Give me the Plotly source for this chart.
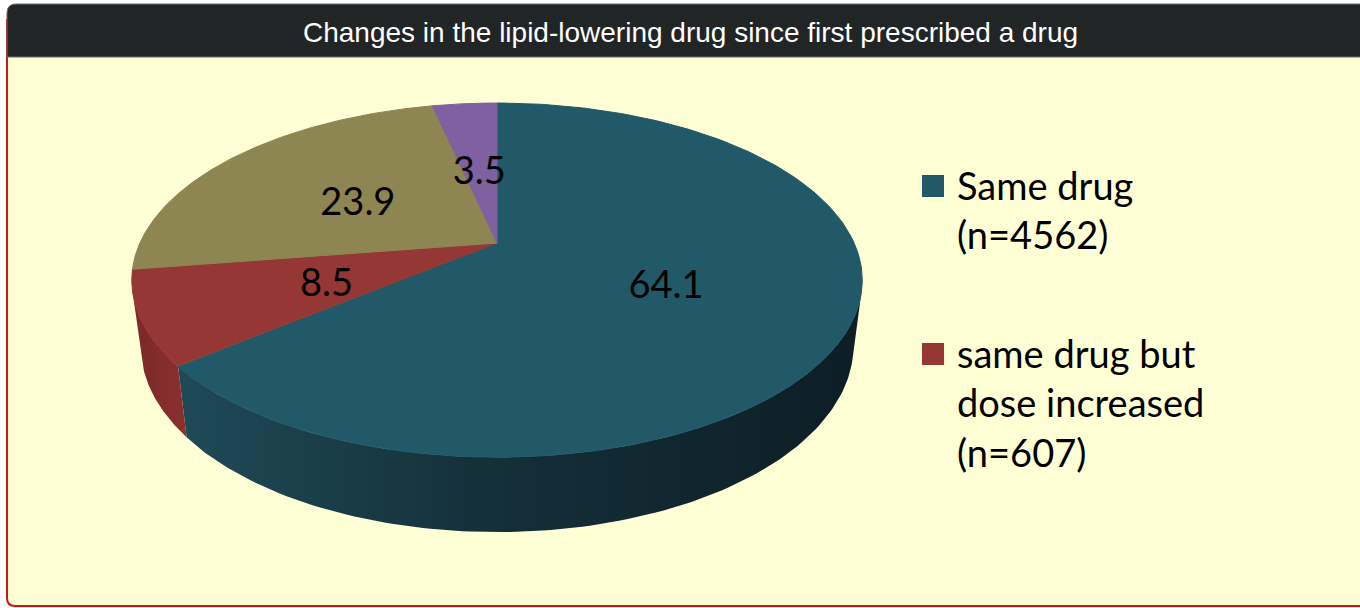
import numpy as np
import plotly.graph_objects as go

# chart data
title = "Changes in the lipid-lowering drug since first prescribed a drug"
shares = [64.1, 8.5, 23.9, 3.5]
legend_labels = ["Same drug<br>(n=4562)", "same drug but<br>dose increased<br>(n=607)"]

top_colors = ["#215968", "#953735", "#8e8652", "#7f60a0"]
side_scales = [
    [[0, "#1f4a57"], [0.45, "#143039"], [1, "#0d1e25"]],
    [[0, "#7a2828"], [1, "#8b3130"]],
    [[0, "#6f6940"], [1, "#6f6940"]],
    [[0, "#604880"], [1, "#604880"]],
]

# 3d pie geometry (pixel space, perspective projection of a tilted disc)
CX, CY = 497, 243
F, D = 1500.0, 4.2
TILT = np.radians(28.3)
S, C = np.sin(TILT), np.cos(TILT)
THICK = 0.21
LABEL_DY = 8


def proj(theta, r=1.0, depth=0.0):
    t = np.radians(theta)
    u = r * np.sin(t)
    v = r * np.cos(t)
    yc = v * S - depth * C
    zc = D + v * C + depth * S
    return CX + F * u / zc, CY - F * yc / zc


# visible part of the rim (front facing)
vis = np.degrees(np.arccos(-1.0 / (C * D)))
vis_lo, vis_hi = vis, 360 - vis

cum = np.concatenate([[0], np.cumsum(shares)]) / sum(shares) * 360

fig = go.Figure()

# sides
for i in range(len(shares)):
    a, b = max(cum[i], vis_lo), min(cum[i + 1], vis_hi)
    if b <= a:
        continue
    th = np.linspace(a, b, 120)
    xt, yt = proj(th)
    xb, yb = proj(th[::-1], depth=THICK)
    fig.add_trace(go.Scatter(
        x=np.concatenate([xt, xb]), y=np.concatenate([yt, yb]),
        mode="lines", fill="toself", line=dict(width=0),
        fillgradient=dict(type="horizontal", colorscale=side_scales[i]),
        hoverinfo="skip", showlegend=False))

# tops
for i in range(len(shares)):
    th = np.linspace(cum[i], cum[i + 1], 200)
    xa, ya = proj(th)
    x0, y0 = proj(0, r=0)
    fig.add_trace(go.Scatter(
        x=np.concatenate([[x0], xa, [x0]]), y=np.concatenate([[y0], ya, [y0]]),
        mode="lines", fill="toself", fillcolor=top_colors[i],
        line=dict(color=top_colors[i], width=1),
        hoverinfo="skip", showlegend=False))

# value labels
mid = (cum[:-1] + cum[1:]) / 2
lx, ly = proj(mid, r=0.5)
fig.add_trace(go.Scatter(
    x=lx, y=ly + LABEL_DY, mode="text", text=[f"{v:.1f}" for v in shares],
    textfont=dict(family="Lato", size=38, color="black"),
    hoverinfo="skip", showlegend=False))

shapes = [
    # panel
    dict(type="path", path="M 7,20 L 7,598 Q 7,606 15,606 L 1368,606 L 1368,20 Z",
         xref="x", yref="y", fillcolor="#ffffd5", line=dict(color="#cc1515", width=2),
         layer="below"),
    # header bar
    dict(type="path", path="M 7,57 L 7,13 Q 7,4 16,4 L 1368,4 L 1368,57 Z",
         xref="x", yref="y", fillcolor="#212526", line=dict(color="#6a6a6a", width=1),
         layer="below"),
]

annotations = [
    dict(x=690, y=32, xref="x", yref="y", text=title, showarrow=False,
         font=dict(family="Liberation Sans", size=28, color="white"))
]

# legend (only the first two entries are visible in the original)
leg_y = [160, 328]
for i, lab in enumerate(legend_labels):
    shapes.append(dict(type="rect", xref="x", yref="y", x0=922, x1=944,
                       y0=leg_y[i] + 15, y1=leg_y[i] + 37,
                       fillcolor=top_colors[i], line=dict(width=0)))
    annotations.append(dict(x=955, y=leg_y[i], xref="x", yref="y", text=lab,
                            showarrow=False, xanchor="left", yanchor="top", align="left",
                            font=dict(family="Lato", size=38, color="black")))

fig.update_layout(
    width=1360, height=608,
    margin=dict(l=0, r=0, t=0, b=0),
    paper_bgcolor="white", plot_bgcolor="white",
    xaxis=dict(range=[0, 1360], visible=False, fixedrange=True),
    yaxis=dict(range=[608, 0], visible=False, fixedrange=True),
    shapes=shapes, annotations=annotations,
    showlegend=False,
)

fig.write_html("out.html", config={"displayModeBar": False},
               post_script="document.body.style.margin='0';")
